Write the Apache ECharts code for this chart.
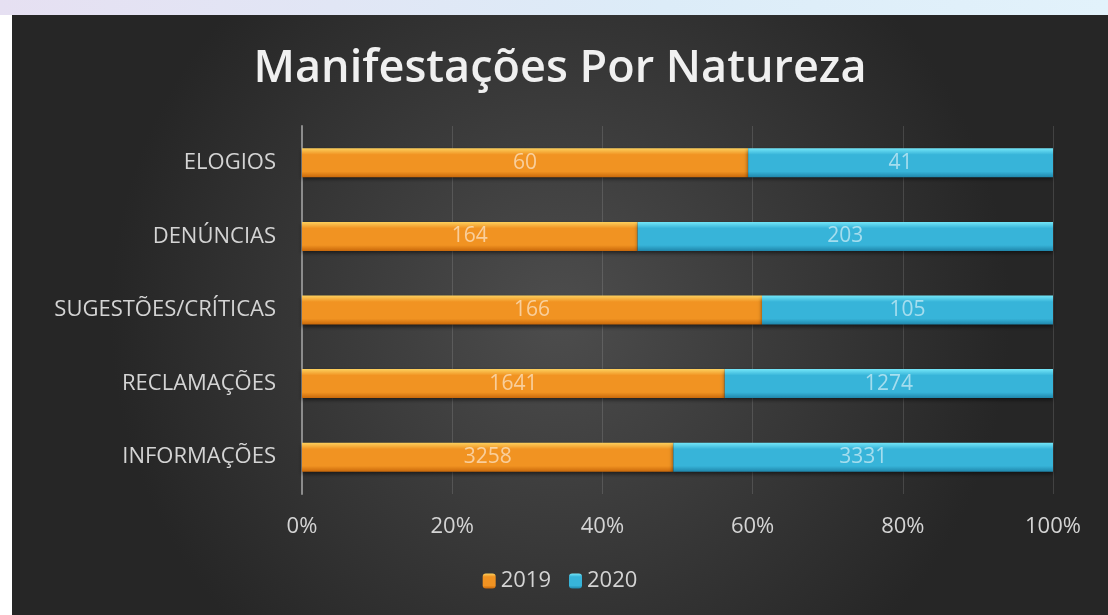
<!DOCTYPE html>
<html>
<head>
<meta charset="utf-8">
<script src="https://cdn.jsdelivr.net/npm/echarts@6/dist/echarts.min.js"></script>
<style>
	html, body { margin: 0; padding: 0; width: 1108px; height: 615px; overflow: hidden; background: #ffffff; }
	.top-strip { position: absolute; left: 0; top: 0; width: 1108px; height: 15px; background: linear-gradient(to right, #e6e0f2, #dcecf8 60%, #e2f2fb); }
	.chart-block { position: absolute; left: 12px; top: 15px; width: 1096px; height: 600px; }
</style>
</head>
<body>
<div class="top-strip"></div>
<div class="chart-block"></div>
<script>
var categories = ['ELOGIOS', 'DENÚNCIAS', 'SUGESTÕES/CRÍTICAS', 'RECLAMAÇÕES', 'INFORMAÇÕES'];
var values2019 = [60, 164, 166, 1641, 3258];
var values2020 = [41, 203, 105, 1274, 3331];
var xTickLabels = ['0%', '20%', '40%', '60%', '80%', '100%'];

var chartColors = {
	text: '#d4d4d4',
	barLabel: 'rgba(255,255,255,0.55)',
	grid: 'rgba(255,255,255,0.13)',
	axisLine: '#8c8c8c'
};
var fontName = 'Open Sans';

function share(a, b) {
	var out = [];
	for (var i = 0; i < a.length; i++) {
		out.push({ value: a[i] / (a[i] + b[i]) * 100, raw: a[i] });
	}
	return out;
}

function barGradient(top, mid, bottom) {
	return new echarts.graphic.LinearGradient(0, 0, 0, 1, [
		{ offset: 0, color: top },
		{ offset: 0.22, color: mid },
		{ offset: 0.8, color: mid },
		{ offset: 1, color: bottom }
	]);
}

var chart = echarts.init(document.querySelector('.chart-block'));

var barLabel = {
	show: true,
	position: 'inside',
	color: chartColors.barLabel,
	fontFamily: fontName,
	fontSize: 21,
	formatter: function (p) { return p.data.raw; }
};

chart.setOption({
	animation: false,
	backgroundColor: new echarts.graphic.RadialGradient(0.5, 0.5, 0.75, [
		{ offset: 0, color: '#4d4d4d' },
		{ offset: 1, color: '#262626' }
	]),
	title: {
		text: 'Manifestações Por Natureza',
		left: 'center',
		top: 27,
		textStyle: {
			color: '#f0f0f0',
			fontFamily: fontName,
			fontWeight: 600,
			fontSize: 45
		}
	},
	legend: {
		bottom: 18,
		left: 'center',
		itemWidth: 13,
		itemHeight: 15,
		itemGap: 18,
		textStyle: { color: chartColors.text, fontFamily: fontName, fontSize: 22 },
		data: ['2019', '2020']
	},
	grid: {
		left: 290,
		right: 55,
		top: 111,
		bottom: 121
	},
	xAxis: {
		type: 'value',
		min: 0,
		max: 100,
		interval: 20,
		axisLine: { show: false },
		axisTick: { show: false },
		axisLabel: {
			color: chartColors.text,
			fontFamily: fontName,
			fontSize: 22,
			margin: 22,
			formatter: function (v) { return xTickLabels[Math.round(v / 20)]; }
		},
		splitLine: { show: true, lineStyle: { color: chartColors.grid, width: 1 } }
	},
	yAxis: {
		type: 'category',
		inverse: true,
		data: categories,
		axisLine: { show: true, lineStyle: { color: chartColors.axisLine, width: 2 } },
		axisTick: { show: false },
		axisLabel: {
			color: chartColors.text,
			fontFamily: fontName,
			fontSize: 22,
			margin: 26
		}
	},
	series: [
		{
			name: '2019',
			type: 'bar',
			stack: 'total',
			barWidth: 29,
			data: share(values2019, values2020),
			label: barLabel,
			itemStyle: {
				color: barGradient('#fdd05e', '#f19322', '#c9680a'),
				shadowColor: 'rgba(0,0,0,0.55)',
				shadowBlur: 4,
				shadowOffsetY: 2
			}
		},
		{
			name: '2020',
			type: 'bar',
			stack: 'total',
			barWidth: 29,
			data: share(values2020, values2019),
			label: barLabel,
			itemStyle: {
				color: barGradient('#74e6f8', '#37b4d9', '#1f86ab'),
				shadowColor: 'rgba(0,0,0,0.55)',
				shadowBlur: 4,
				shadowOffsetY: 2
			}
		}
	]
});
</script>
</body>
</html>
